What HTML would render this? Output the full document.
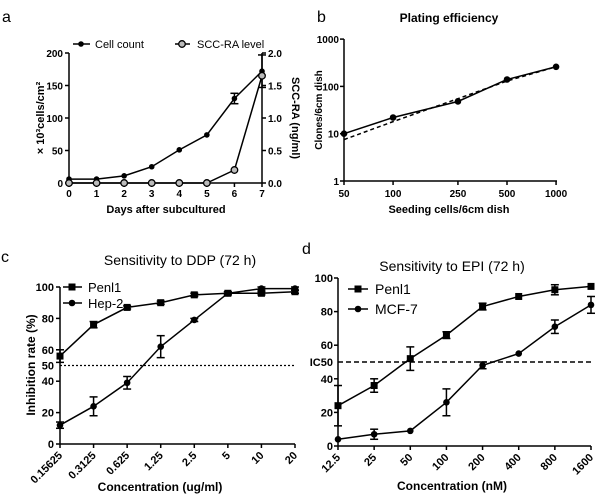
<!DOCTYPE html>
<html><head><meta charset="utf-8"><style>
html,body{margin:0;padding:0;background:#fff;width:600px;height:499px;overflow:hidden}
svg{font-family:"Liberation Sans",Arial,sans-serif}
</style></head><body>
<svg id="s" width="600" height="499" viewBox="0 0 600 499" xmlns="http://www.w3.org/2000/svg"></svg>
<script>
// Panel a data
const aDays=[0,1,2,3,4,5,6,7];
const aCells=[6,6,11,25,51,74,130,172];
const aCellsErr=[0,0,0,0,0,0,8,25];
const aScc=[0,0,0,0,0,0,0.2,1.65];
const aLeftTicks=[0,50,100,150,200];
const aRightTicks=["0.0","0.5","1.0","1.5","2.0"];
// Panel b data
const bSeed=[50,100,250,500,1000];
const bClones=[10,22,48,140,260];
const bFit=[7.5,18,55,130,260];
const bYTicks=[1,10,100,1000];
// Panel c data
const cCats=["0.15625","0.3125","0.625","1.25","2.5","5","10","20"];
const cPenl=[56,76,87,90,95,96,96,97];
const cPenlErr=[4,2,1,1,1,1,1,1];
const cHep=[12,24,39,62,79,96,99,99];
const cHepErr=[2,6,4,7,1,1,1,1];
const cYTicks=[0,20,40,60,80,100];
// Panel d data
const dCats=["12.5","25","50","100","200","400","800","1600"];
const dPenl=[24,36,52,66,83,89,93,95];
const dPenlErr=[12,4,7,2,2,0,3,0];
const dMcf=[4,7,9,26,48,55,71,84];
const dMcfErr=[0,3,0,8,2,0,4,5];
const dYTicks=[0,20,40,60,80,100];

const S=document.getElementById('s');
function el(t,a,txt,name,parent){const e=document.createElementNS('http://www.w3.org/2000/svg',t);for(const k in a)e.setAttribute(k,a[k]);if(txt!==undefined&&txt!==null)e.textContent=txt;


(parent||S).appendChild(e);return e;}
function line(x1,y1,x2,y2,n,w,dash){return el('line',{x1,y1,x2,y2,stroke:'#000','stroke-width':w||1.5,'stroke-dasharray':dash||'none'},null,n);}
function text(x,y,t,n,o){o=o||{};const a={x,y,'font-size':o.fs||11,'text-anchor':o.anchor||'middle',fill:'#000'};if(o.bold)a['font-weight']='bold';if(o.rot)a.transform=o.rot;return el('text',a,t,n);}
function poly(pts,n,dash){return el('polyline',{points:pts.map(p=>p.join(',')).join(' '),fill:'none',stroke:'#000','stroke-width':1.5,'stroke-dasharray':dash||'none'},null,n);}
function dot(x,y,n,r){return el('circle',{cx:x,cy:y,r:r||3.3,fill:'#000'},null,n);}
function sq(x,y,n){return el('rect',{x:x-3.5,y:y-3.5,width:7,height:7,fill:'#000'},null,n);}
function err(x,y1,y2,n){if(Math.abs(y1-y2)<1)return;line(x,y1,x,y2,n,1.5);line(x-4,y1,x+4,y1,n,1.5);line(x-4,y2,x+4,y2,n,1.5);}

// ---- Panel a ----
text(2,22,'a','panel-a-label',{fs:16,anchor:'start'});
const ax=d=>69+d*(262-69)/7, ayL=v=>183-v*(130/200), ayR=v=>183-v*(130/2);
line(69,53,69,183,'a-left-axis');line(262,53,262,183,'a-right-axis');line(69,183,262,183,'a-x-axis');
aLeftTicks.forEach(v=>{line(65,ayL(v),69,ayL(v),'a-left-tick');text(63,ayL(v)+4,v,'a-left-tick-label',{anchor:'end',bold:1,fs:10});});
aRightTicks.forEach(v=>{line(262,ayR(+v),266,ayR(+v),'a-right-tick');text(268,ayR(+v)+4,v,'a-right-tick-label',{anchor:'start',bold:1,fs:10});});
aDays.forEach(d=>{line(ax(d),183,ax(d),187,'a-x-tick');text(ax(d),197,d,'a-x-tick-label',{bold:1,fs:10});});
text(166,213,'Days after subcultured','a-x-title',{bold:1,fs:11});
el('text',{x:0,y:0,'font-size':11,'font-weight':'bold','text-anchor':'middle',transform:'translate(44,118) rotate(-90)'},'× 10³cells/cm²','a-left-axis-title');
text(0,0,'SCC-RA (ng/ml)','a-right-axis-title',{fs:11,bold:1,rot:'translate(292,118) rotate(90)'});
poly(aDays.map((d,i)=>[ax(d),ayL(aCells[i])]),'a-cell-count-line');
aDays.forEach((d,i)=>{err(ax(d),ayL(aCells[i]-aCellsErr[i]),ayL(aCells[i]+aCellsErr[i]),'a-cell-error');dot(ax(d),ayL(aCells[i]),'a-cell-count-point',2.8);});
poly(aDays.map((d,i)=>[ax(d),ayR(aScc[i])]),'a-scc-ra-line');
aDays.forEach((d,i)=>{el('circle',{cx:ax(d),cy:ayR(aScc[i]),r:3.3,fill:'#bbb',stroke:'#000','stroke-width':1.3},null,'a-scc-ra-point');});
line(73,44,90,44,'a-legend-cell-line');dot(81,44,'a-legend-cell-marker',2.8);text(95,48,'Cell count','a-legend-cell-text',{anchor:'start',fs:11});
line(175,44,190,44,'a-legend-scc-line');el('circle',{cx:182,cy:44,r:3.3,fill:'#bbb',stroke:'#000','stroke-width':1.3},null,'a-legend-scc-marker');text(197,48,'SCC-RA level','a-legend-scc-text',{anchor:'start',fs:11});

// ---- Panel b ----
text(317,22,'b','panel-b-label',{fs:16,anchor:'start'});
text(449,22,'Plating efficiency','b-title',{bold:1,fs:12});
const bx=v=>344+Math.log10(v/50)*163, by=v=>181-Math.log10(v)*47.3;
line(344,39,344,181,'b-y-axis');line(344,181,557,181,'b-x-axis');
bYTicks.forEach(v=>{line(340,by(v),344,by(v),'b-y-tick');text(339,by(v)+4,v,'b-y-tick-label',{anchor:'end',bold:1,fs:10});});
bSeed.forEach(v=>{line(bx(v),181,bx(v),185,'b-x-tick');text(bx(v),197,v,'b-x-tick-label',{bold:1,fs:10});});
text(449,213,'Seeding cells/6cm dish','b-x-title',{bold:1,fs:11});
text(0,0,'Clones/6cm dish','b-y-title',{bold:1,fs:10,rot:'translate(322,110) rotate(-90)'});
poly(bSeed.map((v,i)=>[bx(v),by(bFit[i])]),'b-fit-line','4,3');
poly(bSeed.map((v,i)=>[bx(v),by(bClones[i])]),'b-data-line');
bSeed.forEach((v,i)=>dot(bx(v),by(bClones[i]),'b-point',3.3));

// ---- Panel c ----
text(1,262,'c','panel-c-label',{fs:16,anchor:'start'});
text(180,265,'Sensitivity to DDP (72 h)','c-title',{fs:14});
const cx=i=>60+i*(295-60)/7, cy=v=>444-v*1.57;
line(60,287,60,444,'c-y-axis');line(60,444,295,444,'c-x-axis');
cYTicks.forEach(v=>{line(56,cy(v),60,cy(v),'c-y-tick');text(54,cy(v)+4,v,'c-y-tick-label',{anchor:'end',bold:1,fs:11});});
text(54,cy(50)+4,'50','c-y-tick-label',{anchor:'end',bold:1,fs:11});
cCats.forEach((c,i)=>{line(cx(i),444,cx(i),448,'c-x-tick');text(cx(i)+3,456,c,'c-x-tick-label',{anchor:'end',bold:1,fs:11,rot:`rotate(-45 ${cx(i)+3} 456)`});});
text(160,491,'Concentration (ug/ml)','c-x-title',{bold:1,fs:12});
text(0,0,'Inhibition rate (%)','c-y-title',{bold:1,fs:12,rot:'translate(35,365) rotate(-90)'});
line(60,cy(50),295,cy(50),'c-ic50-line',1.3,'2,2');
poly(cCats.map((c,i)=>[cx(i),cy(cPenl[i])]),'c-penl1-line');
poly(cCats.map((c,i)=>[cx(i),cy(cHep[i])]),'c-hep2-line');
cCats.forEach((c,i)=>{err(cx(i),cy(cPenl[i]-cPenlErr[i]),cy(cPenl[i]+cPenlErr[i]),'c-penl1-error');sq(cx(i),cy(cPenl[i]),'c-penl1-point');
err(cx(i),cy(cHep[i]-cHepErr[i]),cy(cHep[i]+cHepErr[i]),'c-hep2-error');dot(cx(i),cy(cHep[i]),'c-hep2-point');});
line(63,287,82,287,'c-legend-penl1-line');sq(72,287,'c-legend-penl1-marker');text(88,292,'Penl1','c-legend-penl1-text',{anchor:'start',fs:13});
line(63,303,82,303,'c-legend-hep2-line');dot(72,303,'c-legend-hep2-marker');text(88,308,'Hep-2','c-legend-hep2-text',{anchor:'start',fs:13});

// ---- Panel d ----
text(302,254,'d','panel-d-label',{fs:16,anchor:'start'});
text(452,271,'Sensitivity to EPI (72 h)','d-title',{fs:14});
const dx=i=>338+i*(591-338)/7, dy=v=>446-v*1.68;
line(338,278,338,446,'d-y-axis');line(338,446,591,446,'d-x-axis');
dYTicks.forEach(v=>{line(334,dy(v),338,dy(v),'d-y-tick');text(333,dy(v)+4,v,'d-y-tick-label',{anchor:'end',bold:1,fs:11});});
text(333,dy(50)+4,'IC50','d-ic50-label',{anchor:'end',bold:1,fs:11});
dCats.forEach((c,i)=>{line(dx(i),446,dx(i),450,'d-x-tick');text(dx(i)+3,458,c,'d-x-tick-label',{anchor:'end',bold:1,fs:11,rot:`rotate(-45 ${dx(i)+3} 458)`});});
text(452,490,'Concentration (nM)','d-x-title',{bold:1,fs:12});
line(338,dy(50),591,dy(50),'d-ic50-line',1.5,'5,3');
poly(dCats.map((c,i)=>[dx(i),dy(dPenl[i])]),'d-penl1-line');
poly(dCats.map((c,i)=>[dx(i),dy(dMcf[i])]),'d-mcf7-line');
dCats.forEach((c,i)=>{err(dx(i),dy(dPenl[i]-dPenlErr[i]),dy(dPenl[i]+dPenlErr[i]),'d-penl1-error');sq(dx(i),dy(dPenl[i]),'d-penl1-point');
err(dx(i),dy(dMcf[i]-dMcfErr[i]),dy(dMcf[i]+dMcfErr[i]),'d-mcf7-error');dot(dx(i),dy(dMcf[i]),'d-mcf7-point');});
line(348,289,368,289,'d-legend-penl1-line');sq(358,289,'d-legend-penl1-marker');text(375,294,'Penl1','d-legend-penl1-text',{anchor:'start',fs:14});
line(348,309,368,309,'d-legend-mcf7-line');dot(358,309,'d-legend-mcf7-marker');text(375,314,'MCF-7','d-legend-mcf7-text',{anchor:'start',fs:14});
</script>
</body></html>
